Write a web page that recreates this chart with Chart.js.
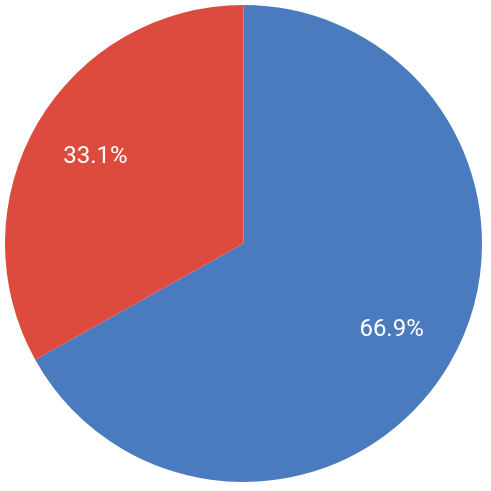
<!DOCTYPE html>
<html>
<head>
<meta charset="utf-8">
<script src="https://cdn.jsdelivr.net/npm/chart.js@4/dist/chart.umd.min.js"></script>
<style>
  html, body { margin: 0; padding: 0; background: #ffffff; }
  #wrap { width: 491px; height: 491px; }
</style>
</head>
<body>
<div id="wrap"><canvas id="pieChart"></canvas></div>
<script>
// chart data
const labels = ['Blue', 'Red'];
const shares = [66.9, 33.1];
const sliceColors = ['#4a7bbf', '#dc4b3e'];

// draw percentage labels inside each slice
const sliceLabels = {
    id: 'sliceLabels',
    afterDatasetsDraw(chart) {
        const ctx = chart.ctx;
        const meta = chart.getDatasetMeta(0);
        const total = shares.reduce((a, b) => a + b, 0);
        ctx.save();
        ctx.fillStyle = '#ffffff';
        ctx.font = '24px Roboto, "Noto Sans", sans-serif';
        ctx.textAlign = 'center';
        ctx.textBaseline = 'middle';
        meta.data.forEach((arc, i) => {
            const p = arc.getProps(['x', 'y', 'startAngle', 'endAngle', 'outerRadius'], true);
            const mid = (p.startAngle + p.endAngle) / 2;
            const r = p.outerRadius * 0.72;
            const pct = (shares[i] / total * 100).toFixed(1) + '%';
            ctx.fillText(pct, p.x + Math.cos(mid) * r, p.y + Math.sin(mid) * r);
        });
        ctx.restore();
    }
};

const ctx = document.getElementById('pieChart').getContext('2d');
new Chart(ctx, {
    type: 'pie',
    data: {
        labels: labels,
        datasets: [{
            data: shares,
            backgroundColor: sliceColors,
            borderWidth: 0
        }]
    },
    options: {
        responsive: true,
        maintainAspectRatio: false,
        animation: false,
        layout: { padding: { left: 4, right: 8, top: 5, bottom: 9 } },
        plugins: {
            legend: { display: false },
            tooltip: { enabled: false }
        }
    },
    plugins: [sliceLabels]
});
</script>
</body>
</html>
